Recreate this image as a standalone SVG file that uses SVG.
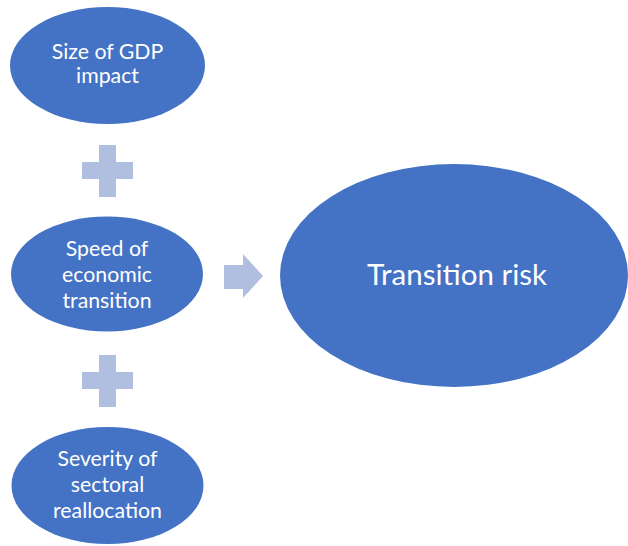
<svg xmlns="http://www.w3.org/2000/svg" width="628" height="546" viewBox="0 0 628 546">
<style>
.node{fill:#4472C4;}
.sym{fill:#B0BEDF;}
.t{fill:#FFFFFF;font-family:Lato,"Liberation Sans",sans-serif;text-anchor:middle;}
.s{font-size:21.3px;}
.b{font-size:29.5px;}
</style>
<rect width="628" height="546" fill="#FFFFFF"/>
<g id="node-gdp">
<ellipse class="node" cx="107.5" cy="65.5" rx="97.5" ry="58.5"/>
<text class="t s" x="107.5" y="59">Size of GDP</text>
<text class="t s" x="107.5" y="83">impact</text>
</g>
<g id="node-speed">
<ellipse class="node" cx="107" cy="274" rx="96" ry="57.5"/>
<text class="t s" x="107" y="256">Speed of</text>
<text class="t s" x="107" y="282">economic</text>
<text class="t s" x="107" y="308">transition</text>
</g>
<g id="node-severity">
<ellipse class="node" cx="107.5" cy="485.5" rx="96" ry="58.5"/>
<text class="t s" x="107.5" y="466">Severity of</text>
<text class="t s" x="107.5" y="492">sectoral</text>
<text class="t s" x="107.5" y="518">reallocation</text>
</g>
<g id="node-risk">
<ellipse class="node" cx="454" cy="275.5" rx="174" ry="111.5"/>
<text class="t b" x="457" y="285">Transition risk</text>
</g>
<g id="connectors">
<path class="sym" d="M99,145 H116 V162 H133 V179 H116 V197 H99 V179 H82 V162 H99 Z"/>
<path class="sym" d="M99,355 H116 V372 H133 V389 H116 V407 H99 V389 H82 V372 H99 Z"/>
<path class="sym" d="M224,265 H243 V254 L263,276 L243,298 V289 H224 Z"/>
</g>
</svg>
